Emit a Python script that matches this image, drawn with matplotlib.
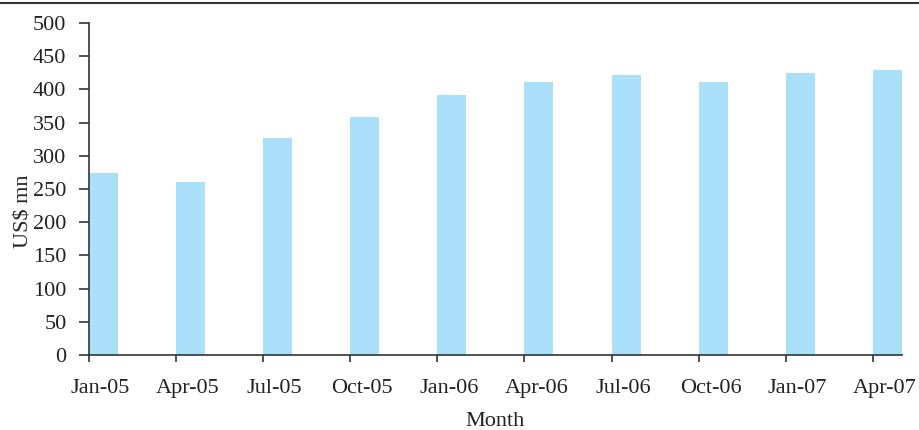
import numpy as np
import matplotlib.pyplot as plt
from matplotlib.lines import Line2D

months = ["Jan-05", "Apr-05", "Jul-05", "Oct-05", "Jan-06",
          "Apr-06", "Jul-06", "Oct-06", "Jan-07", "Apr-07"]
values = [274, 260, 327, 358, 392, 411, 422, 411, 425, 429]
y_ticks = [0, 50, 100, 150, 200, 250, 300, 350, 400, 450, 500]

plt.rcParams["font.family"] = ["Liberation Serif", "DejaVu Serif"]
fontsize = 16
bar_color = "#aae0f9"
axis_color = "#333333"
text_color = "#222222"

fig = plt.figure(figsize=(9.19, 4.30), dpi=100)
ax = fig.add_axes([0.0965, 0.1744, 0.885, 0.772])

# bars start at the tick, a third of the slot wide
pos = np.arange(len(months))
ax.bar(pos, values, width=0.333, align="edge", color=bar_color, linewidth=0)

# x-axis: tick marks at slot edges, labels nudged toward the bars
ax.set_xlim(0, len(months) - 1 + 0.333)
ax.set_xticks(pos)
ax.set_xticklabels([])
ax.set_xticks(pos + 0.135, minor=True)
ax.set_xticklabels(months, minor=True, fontsize=fontsize, color=text_color)
ax.tick_params(axis="x", which="major", direction="out", length=5, width=1.2, color=axis_color)
ax.tick_params(axis="x", which="minor", length=0, pad=17)

# y-axis
ax.set_ylim(0, 500)
ax.set_yticks(y_ticks)
ax.set_yticklabels([str(t) for t in y_ticks], fontsize=fontsize, color=text_color)
ax.tick_params(axis="y", direction="out", length=7, width=1.2, color=axis_color, pad=9)

ax.set_ylabel("US$ mn", fontsize=fontsize, color=text_color)
ax.yaxis.set_label_coords(-0.068, 0.434)
ax.set_xlabel("Month", fontsize=fontsize, color=text_color, labelpad=10)

for side in ["top", "right"]:
    ax.spines[side].set_visible(False)
for side in ["left", "bottom"]:
    ax.spines[side].set_color(axis_color)
    ax.spines[side].set_linewidth(1.2)

# rule across the top of the figure
fig.add_artist(Line2D([0, 1], [0.993, 0.993], transform=fig.transFigure,
                      color=axis_color, linewidth=1.5))

plt.savefig("out.png", dpi=100)
